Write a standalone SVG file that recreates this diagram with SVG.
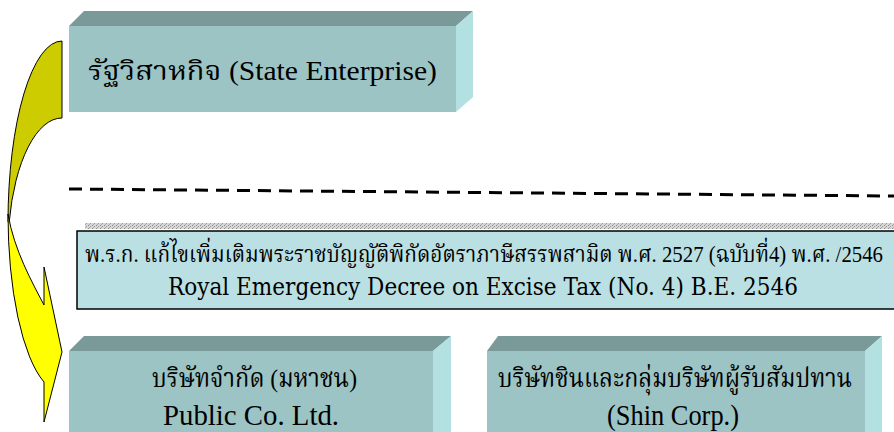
<svg xmlns="http://www.w3.org/2000/svg" width="894" height="432" viewBox="0 0 894 432">
<defs>
<pattern id="strip" width="4" height="3" patternUnits="userSpaceOnUse">
<rect width="4" height="3" fill="#d8d8d8"/>
<rect x="0" y="0" width="1" height="1" fill="#888"/>
<rect x="2" y="1" width="1" height="1" fill="#999"/>
<rect x="1" y="2" width="1" height="1" fill="#aaa"/>
</pattern>
<style>
.front{fill:#9cc4c4}
.top{fill:#7a9999}
.side{fill:#b3e0e0}
.arrow{stroke:#000;stroke-width:1}
</style>
</defs>
<rect width="894" height="432" fill="#fff"/>

<g id="connectors">
<path class="arrow" fill="#cccc00" d="M62,41 A54,181 0 0 0 8,222 L9.2,222 A54,132 0 0 1 62,118 Z"/>
<path class="arrow" fill="#ffff00" d="M8,214 A54,177 0 0 0 44,382 L44,422 L62,352 L44,267 L44,305 C32,282 14,250 8,214 Z"/>
<line x1="69" y1="189" x2="894" y2="196" stroke="#000" stroke-width="3" stroke-dasharray="13,8"/>
</g>

<g id="state-enterprise">
<polygon class="top" points="69,26 84,11 473,11 456,26"/>
<polygon class="side" points="456,26 473,11 473,97 456,112"/>
<rect class="front" x="69" y="26" width="387" height="86"/>
<text font-family="'Liberation Serif', 'Noto Serif Thai', serif" x="88" y="80" font-size="27" textLength="349" lengthAdjust="spacingAndGlyphs">รัฐวิสาหกิจ (State Enterprise)</text>
</g>

<g id="decree">
<rect x="85" y="223" width="809" height="6" fill="url(#strip)"/>
<rect x="77" y="231" width="830" height="78" fill="#bbe0e3" stroke="#000" stroke-width="1.5"/>
<text font-family="'Liberation Serif', 'Noto Serif Thai', serif" x="85" y="262" font-size="23" textLength="798" lengthAdjust="spacingAndGlyphs">พ.ร.ก. แก้ไขเพิ่มเติมพระราชบัญญัติพิกัดอัตราภาษีสรรพสามิต พ.ศ. 2527 (ฉบับที่4) พ.ศ. /2546</text>
<text font-family="'DejaVu Serif', serif" x="168" y="295" font-size="24" textLength="630" lengthAdjust="spacingAndGlyphs">Royal Emergency Decree on Excise Tax (No. 4) B.E. 2546</text>
</g>

<g id="public-co">
<polygon class="top" points="69,351 84,336 451,336 433,351"/>
<polygon class="side" points="433,351 451,336 451,432 433,432"/>
<rect class="front" x="69" y="351" width="364" height="81"/>
<text font-family="'Liberation Serif', 'Noto Serif Thai', serif" x="152" y="387" font-size="26" textLength="205" lengthAdjust="spacingAndGlyphs">บริษัทจำกัด (มหาชน)</text>
<text font-family="'Liberation Serif', serif" x="163" y="425" font-size="29" textLength="176" lengthAdjust="spacingAndGlyphs">Public Co. Ltd.</text>
</g>

<g id="shin-corp">
<polygon class="top" points="487,351 498,336 882,336 865,351"/>
<polygon class="side" points="865,351 882,336 882,432 865,432"/>
<rect class="front" x="487" y="351" width="378" height="81"/>
<text font-family="'Liberation Serif', 'Noto Serif Thai', serif" x="498" y="387" font-size="26" textLength="354" lengthAdjust="spacingAndGlyphs">บริษัทชินและกลุ่มบริษัทผู้รับสัมปทาน</text>
<text font-family="'Times New Roman', serif" x="607" y="425" font-size="29" textLength="132" lengthAdjust="spacingAndGlyphs">(Shin Corp.)</text>
</g>
</svg>
